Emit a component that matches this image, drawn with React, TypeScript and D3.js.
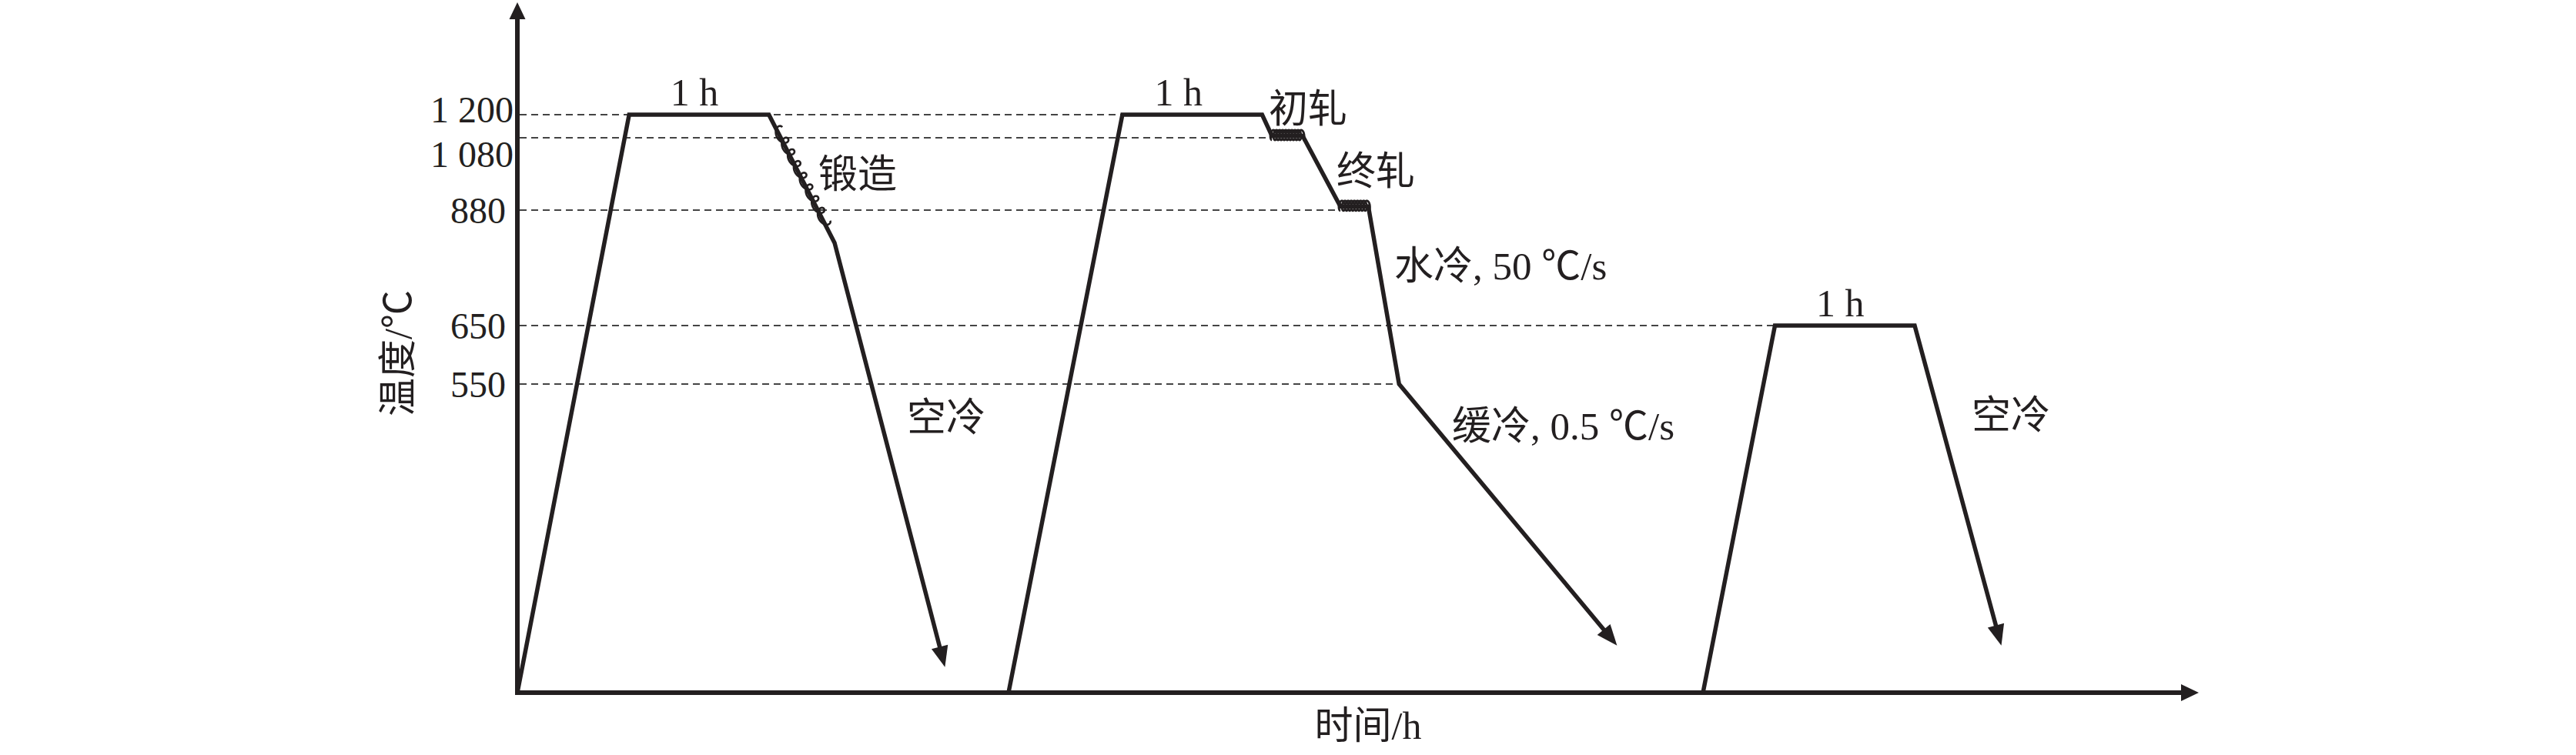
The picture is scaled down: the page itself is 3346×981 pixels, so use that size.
import React from "react";
import * as d3 from "d3";

// Thermo-mechanical schedule: time in hours, temperature in °C
const forgingRoute = [
  { t: 0, T: 20 },
  { t: 0.8, T: 1200 },
  { t: 1.8, T: 1200 },
  { t: 2.27, T: 815 },
  { t: 3.06, T: 64 },
];
const rollingRoute = [
  { t: 3.515, T: 20 },
  { t: 4.33, T: 1200 },
  { t: 5.33, T: 1200 },
  { t: 5.4, T: 1090 },
  { t: 5.62, T: 1090 },
  { t: 5.89, T: 890 },
  { t: 6.09, T: 890 },
  { t: 6.31, T: 550 },
  { t: 7.87, T: 101 },
];
const temperRoute = [
  { t: 8.485, T: 20 },
  { t: 9, T: 650 },
  { t: 10, T: 650 },
  { t: 10.62, T: 101 },
];

// Characteristic temperatures marked on the vertical axis
const tickTemps = [1200, 1080, 880, 650, 550];
const tickLabels = ["1 200", "1 080", "880", "650", "550"];
// time at which each guide line meets the schedule
const guideEnds = [4.33, 5.4, 5.89, 9, 6.31];

// 1 h soaking holds
const holds = [
  { t0: 0.8, t1: 1.8, T: 1200 },
  { t0: 4.33, t1: 5.33, T: 1200 },
  { t0: 9, t1: 10, T: 650 },
];
const holdLabel = "1 h";

// deformation passes drawn as coils: route, segment start index, fraction range
const forgingPass = { route: forgingRoute, seg: 2, f0: 0.12, f1: 0.85 };
const roughPass = { route: rollingRoute, seg: 3, f0: 0.0, f1: 1.0 };
const finishPass = { route: rollingRoute, seg: 5, f0: 0.0, f1: 1.0 };

const stageNotes = [
  { text: "锻造", x: 1063, y: 244 },
  { text: "空冷", x: 1178, y: 560 },
  { text: "初轧", x: 1648, y: 159 },
  { text: "终轧", x: 1736, y: 240 },
  { text: "水冷, 50 ℃/s", x: 1811, y: 363 },
  { text: "缓冷, 0.5 ℃/s", x: 1886, y: 571 },
  { text: "空冷", x: 2561, y: 557 },
];

const xTitle = "时间/h";
const yTitle = "温度/℃";

const W = 3346;
const H = 981;
const INK = "#231f20";
const FONT = "'Liberation Serif', 'Times New Roman', 'Noto Sans CJK SC', serif";

const x = d3.scaleLinear().domain([0, 12]).range([672, 2850]);
const y = d3
  .scaleLinear()
  .domain([20, 550, 650, 880, 1080, 1200])
  .range([900, 499, 423, 273, 179, 149]);

type P = [number, number];

function toPx(route: { t: number; T: number }[]): P[] {
  return route.map((d) => [x(d.t), y(d.T)] as P);
}

// trochoid coil along a straight piece of the schedule
function coilPath(a: P, b: P, f0: number, f1: number, period: number, au: number, an: number, c: number) {
  const dx = b[0] - a[0];
  const dy = b[1] - a[1];
  const L = Math.hypot(dx, dy);
  const u: P = [dx / L, dy / L];
  const n: P = [-u[1], u[0]];
  const nn: P = n[0] < 0 ? [-n[0], -n[1]] : n;
  const s0 = f0 * L;
  const s1 = f1 * L;
  const turns = Math.max(1, Math.round((s1 - s0) / period));
  const steps = turns * 40;
  const pts: P[] = [];
  for (let i = 0; i <= steps; i++) {
    const th = (i / steps) * turns * 2 * Math.PI;
    const s = s0 + (i / steps) * (s1 - s0) - au * Math.sin(th);
    const o = an * Math.cos(th) + c;
    pts.push([a[0] + u[0] * s + nn[0] * o, a[1] + u[1] * s + nn[1] * o]);
  }
  return d3.line()(pts) || "";
}

function arrowRoute(pts: P[], len = 27, hw = 11) {
  const tip = pts[pts.length - 1];
  const prev = pts[pts.length - 2];
  const dx = tip[0] - prev[0];
  const dy = tip[1] - prev[1];
  const L = Math.hypot(dx, dy);
  const u: P = [dx / L, dy / L];
  const n: P = [-u[1], u[0]];
  const end: P = [tip[0] - u[0] * len * 0.7, tip[1] - u[1] * len * 0.7];
  const base: P = [tip[0] - u[0] * len, tip[1] - u[1] * len];
  const head = [
    tip,
    [base[0] + n[0] * hw, base[1] + n[1] * hw],
    [base[0] - n[0] * hw, base[1] - n[1] * hw],
  ] as P[];
  return {
    line: d3.line()([...pts.slice(0, -1), end]) || "",
    head: head.map((p) => p.join(",")).join(" "),
  };
}

export default function App() {
  const routes = [forgingRoute, rollingRoute, temperRoute].map((r) => arrowRoute(toPx(r)));
  const passes = [
    { p: forgingPass, period: 18, au: 7, an: 6, c: 2 },
    { p: roughPass, period: 4.2, au: 3, an: 6.5, c: -1 },
    { p: finishPass, period: 4.2, au: 3, an: 6.5, c: -1 },
  ].map(({ p, period, au, an, c }) => {
    const pts = toPx(p.route);
    return coilPath(pts[p.seg], pts[p.seg + 1], p.f0, p.f1, period, au, an, c);
  });

  const x0 = x(0);
  const yBase = y(20);
  const yTop = 3;
  const xEnd = 2856;

  // small vertical nudges so the two close labels at the top do not collide
  const tickNudge: Record<number, number> = { 1200: -7, 1080: 21 };

  return (
    <svg
      width={W}
      height={H}
      viewBox={`0 0 ${W} ${H}`}
      style={{ position: "absolute", left: 0, top: 0, background: "#fff" }}
      fontFamily={FONT}
    >
      <rect width={W} height={H} fill="#fff" />

      {/* guide lines */}
      {tickTemps.map((T, i) => (
        <line
          key={`g${T}`}
          x1={x0 + 3}
          x2={x(guideEnds[i])}
          y1={y(T)}
          y2={y(T)}
          stroke="#444"
          strokeWidth={2}
          strokeDasharray="9 6"
        />
      ))}

      {/* axes */}
      <line x1={x0} y1={yBase + 3} x2={x0} y2={yTop + 18} stroke={INK} strokeWidth={6} />
      <polygon points={`${x0},${yTop} ${x0 - 10.5},${yTop + 22} ${x0 + 10.5},${yTop + 22}`} fill={INK} />
      <line x1={x0 - 3} y1={yBase} x2={xEnd - 18} y2={yBase} stroke={INK} strokeWidth={6} />
      <polygon points={`${xEnd},${yBase} ${xEnd - 23},${yBase - 11} ${xEnd - 23},${yBase + 11}`} fill={INK} />

      {/* schedule */}
      {routes.map((r, i) => (
        <g key={`r${i}`}>
          <path d={r.line} fill="none" stroke={INK} strokeWidth={5.5} strokeLinejoin="miter" />
          <polygon points={r.head} fill={INK} />
        </g>
      ))}
      {passes.map((d, i) => (
        <path key={`c${i}`} d={d} fill="none" stroke={INK} strokeWidth={i === 0 ? 2.6 : 2.8} />
      ))}

      {/* tick labels */}
      {tickTemps.map((T, i) => (
        <text
          key={`t${T}`}
          x={T >= 1000 ? x0 - 5 : x0 - 15}
          y={y(T) + (tickNudge[T] || 0)}
          textAnchor="end"
          dominantBaseline="central"
          fontSize={48}
          fill={INK}
        >
          {tickLabels[i]}
        </text>
      ))}

      {/* hold labels */}
      {holds.map((h, i) => (
        <text
          key={`h${i}`}
          x={(x(h.t0) + x(h.t1)) / 2 - (i === 1 ? 18 : 6)}
          y={y(h.T) - 12}
          textAnchor="middle"
          fontSize={50}
          fill={INK}
        >
          {holdLabel}
        </text>
      ))}

      {/* stage notes */}
      {stageNotes.map((n, i) => (
        <text key={`n${i}`} x={n.x} y={n.y} fontSize={51} fill={INK}>
          {n.text}
        </text>
      ))}

      {/* axis titles */}
      <text x={1777} y={960} textAnchor="middle" fontSize={50} fill={INK}>
        {xTitle}
      </text>
      <text
        transform={`translate(517,459) rotate(-90)`}
        textAnchor="middle"
        dominantBaseline="central"
        fontSize={50}
        fill={INK}
      >
        {yTitle}
      </text>
    </svg>
  );
}
